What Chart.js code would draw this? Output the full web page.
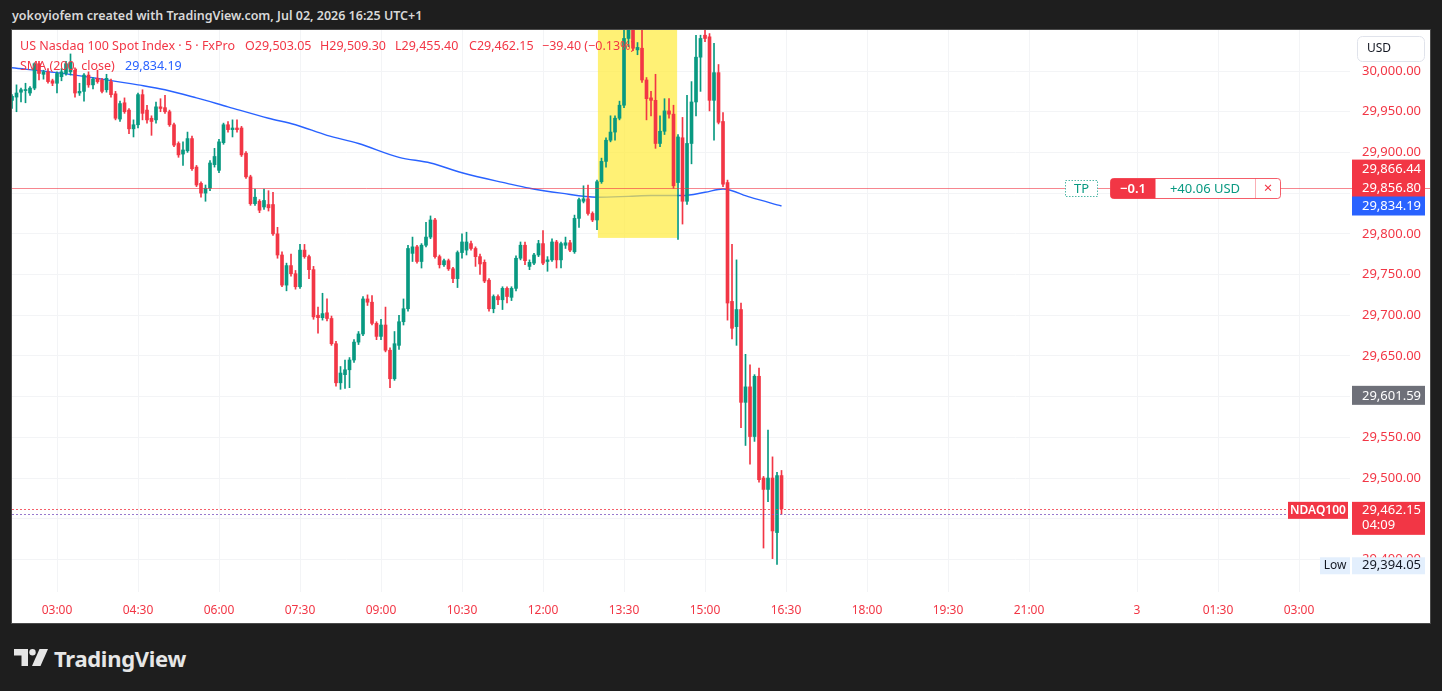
<!DOCTYPE html>
<html>
<head>
<meta charset="utf-8">
<script src="https://cdn.jsdelivr.net/npm/chart.js@4.4.1/dist/chart.umd.min.js"></script>
<style>
html,body{margin:0;padding:0;background:#1e1e1e;width:1442px;height:691px;overflow:hidden;font-family:"Noto Sans",sans-serif;}
#hdr{position:absolute;left:12px;top:6px;color:#d8d8d8;font-size:12.5px;font-weight:600;line-height:20px;white-space:nowrap;}
#panel{position:absolute;left:12px;top:30px;width:1418px;height:593px;background:#fff;box-shadow:0 0 0 1px #4a4a4a;}
#cv{position:absolute;left:0;top:0;}
.lg{position:absolute;font-size:12.5px;line-height:18px;color:#f23645;white-space:nowrap;pointer-events:none;}
#logo{position:absolute;left:14px;top:646px;height:24px;display:flex;align-items:center;}
#logo span{color:#e6e6e6;font-size:22px;font-weight:700;margin-left:6px;letter-spacing:-0.3px;}
</style>
</head>
<body>
<div id="hdr">yokoyiofem created with TradingView.com, Jul 02, 2026 16:25 UTC+1</div>
<div id="panel">
  <canvas id="cv" width="1418" height="593"></canvas>
  <div class="lg" style="left:8px;top:7px;">US Nasdaq 100 Spot Index · 5 · FxPro</div>
  <div class="lg" style="left:233px;top:7px;">O29,503.05</div>
  <div class="lg" style="left:308px;top:7px;">H29,509.30</div>
  <div class="lg" style="left:383px;top:7px;">L29,455.40</div>
  <div class="lg" style="left:457px;top:7px;">C29,462.15</div>
  <div class="lg" style="left:530px;top:7px;">−39.40 (−0.13%)</div>
  <div class="lg" style="left:8px;top:27px;">SMA (200, close)</div>
  <div class="lg" style="left:113px;top:27px;color:#2962ff;">29,834.19</div>
</div>
<div id="logo">
  <svg width="34" height="18" viewBox="0 0 34 18"><path d="M0 0h14v17h-6.5V6.5H0z" fill="#e6e6e6"/><circle cx="18.5" cy="3.2" r="3.2" fill="#e6e6e6"/><path d="M25.5 0h8.5l-7.5 17h-8.5z" fill="#e6e6e6"/></svg>
  <span>TradingView</span>
</div>
<script>
// ---------- DATA ----------
const startIdx = -10; // first candle, in 5-minute bars relative to 03:00
const opens = [
 29964,29968,29974,29976,29973,29979,30009,29996,29999,29988,
 29985,29993,29997,29999,30001,29973,29975,29995,29983,29991,
 29989,29977,29987,29972,29941,29961,29952,29929,29934,29971,
 29952,29942,29940,29956,29955,29950,29934,29911,29898,29902,
 29917,29882,29862,29850,29856,29885,29878,29912,29934,29928,
 29930,29930,29899,29870,29837,29840,29833,29836,29836,29800,
 29774,29737,29761,29751,29735,29780,29772,29756,29700,29697,
 29703,29696,29665,29617,29627,29633,29645,29667,29677,29720,
 29716,29690,29674,29688,29657,29622,29663,29692,29708,29776,
 29784,29766,29786,29796,29817,29772,29762,29767,29757,29745,
 29777,29780,29788,29782,29772,29765,29743,29708,29723,29719,
 29733,29722,29733,29770,29786,29760,29764,29774,29788,29766,
 29768,29790,29768,29786,29789,29778,29819,29840,29843,29825,
 29817,29864,29889,29915,29925,29942,29958,30040,30055,30026,
 30028,29989,29967,29964,29911,29926,29951,29947,29863,29918,
 29840,29911,29962,30017,30044,30042,29964,29998,29938,29863,
 29717,29686,29707,29593,29612,29551,29625,29500,29486,29500,
 29433,29503.05];
const highs = [
 29971,29983,29979,29985,29981,30010,30012,30001,30003,29990,
 29999,30003,30012,30021,30004,29985,29997,29999,29992,30001,
 29991,29996,29990,29975,29963,29967,29954,29940,29973,29977,
 29958,29945,29962,29966,29970,29952,29936,29913,29913,29925,
 29920,29884,29864,29860,29890,29905,29916,29936,29938,29940,
 29940,29932,29901,29872,29855,29842,29855,29853,29851,29808,
 29778,29764,29775,29755,29787,29787,29774,29760,29710,29727,
 29720,29699,29668,29637,29645,29648,29670,29680,29723,29725,
 29724,29692,29695,29710,29660,29680,29700,29720,29786,29796,
 29786,29788,29814,29822,29819,29774,29769,29769,29759,29779,
 29800,29802,29791,29784,29775,29768,29745,29725,29725,29735,
 29735,29735,29773,29790,29790,29768,29776,29792,29804,29772,
 29794,29792,29790,29796,29792,29823,29844,29859,29860,29827,
 29866,29893,29918,29945,29945,29963,30055,30065,30065,30035,
 30050,29992,29975,29996,29945,29966,29966,29958,29922,29943,
 29970,29987,30044,30044,30050,30046,30034,30008,29949,29866,
 29787,29768,29715,29652,29639,29627,29635,29502,29559,29526,
 29507,29509.30];
const lows = [
 29954,29950,29962,29961,29970,29977,29989,29990,29985,29982,
 29973,29988,29995,29995,29968,29970,29963,29980,29978,29985,
 29973,29974,29968,29940,29938,29948,29923,29919,29930,29940,
 29936,29921,29936,29950,29948,29932,29907,29894,29884,29900,
 29878,29858,29845,29840,29853,29882,29875,29910,29925,29919,
 29925,29895,29868,29835,29835,29826,29830,29828,29798,29770,
 29735,29730,29748,29732,29733,29770,29745,29695,29678,29694,
 29693,29663,29613,29609,29610,29611,29642,29664,29675,29712,
 29688,29670,29670,29655,29611,29620,29658,29688,29705,29766,
 29764,29758,29784,29794,29770,29758,29760,29755,29740,29734,
 29770,29774,29780,29760,29750,29740,29705,29703,29713,29707,
 29715,29718,29730,29768,29762,29756,29762,29772,29762,29754,
 29766,29758,29758,29782,29778,29776,29808,29838,29823,29815,
 29805,29862,29882,29913,29915,29940,29955,30030,30025,30020,
 29986,29940,29945,29905,29907,29922,29942,29856,29793,29812,
 29836,29886,29945,29975,30036,29951,29915,29935,29858,29694,
 29671,29663,29562,29540,29517,29545,29495,29414,29471,29401,
 29394,29455.40];
const closes = [
 29969,29973,29977,29977,29979,30009,29997,29999,29987,29985,
 29997,29999,30009,30011,29973,29975,29995,29983,29990,29987,
 29975,29991,29971,29942,29960,29950,29929,29934,29971,29948,
 29940,29938,29956,29954,29950,29934,29909,29897,29903,29917,
 29880,29860,29850,29856,29887,29895,29913,29934,29928,29930,
 29928,29897,29870,29837,29845,29829,29841,29832,29800,29774,
 29737,29761,29751,29735,29780,29772,29756,29698,29697,29702,
 29696,29665,29617,29629,29633,29645,29667,29677,29720,29716,
 29690,29674,29688,29657,29622,29665,29692,29708,29782,29784,
 29766,29786,29796,29817,29772,29762,29767,29757,29745,29777,
 29790,29790,29782,29772,29763,29742,29708,29723,29719,29733,
 29723,29733,29770,29786,29767,29765,29774,29788,29764,29768,
 29790,29768,29788,29789,29780,29819,29842,29843,29825,29817,
 29864,29889,29915,29925,29942,29958,30040,30058,30028,30029,
 29989,29966,29964,29911,29926,29951,29947,29859,29919,29840,
 29911,29962,30017,30040,30040,29964,29998,29937,29861,29715,
 29684,29707,29593,29612,29551,29625,29498,29486,29500,29435,
 29503,29462.15];

const smaIdx = [-10,0,10,18,24,31,38,47,53,60,67,76,83,90,100,105,112,120,127,132,139,144,148,154,161];
const smaVal = [30004,29998,29990,29983,29977,29967,29956,29942,29934,29921,29911,29894,29887,29875,29862,29856,29850,29845,29846,29847,29847,29851,29855,29845,29834.19];

const timeTickIdx = [0,18,36,54,72,90,108,126,144,162,180,198,216,240,258,276];
const timeTickLabels = ['03:00','04:30','06:00','07:30','09:00','10:30','12:00','13:30','15:00','16:30','18:00','19:30','21:00','3','01:30','03:00'];
const priceTicks = [29400,29450,29500,29550,29600,29650,29700,29750,29800,29850,29900,29950,30000];

// highlight rectangle (bar index range / price range)
const hlStart = 120.2, hlEnd = 137.8, hlLow = 29795, hlHigh = 30120;
// price levels
const tpEntry = 29856.80, tpPrice = 29866.44, smaLast = 29834.19, grayLevel = 29601.59;
const lastClose = 29462.15, askLine = 29456, dayLow = 29394.05;

// ---------- CHART ----------
const GREEN = '#089981', RED = '#f23645', BLUE = '#2962ff';
const FONT = '"Noto Sans", sans-serif';
Chart.defaults.font.family = FONT;

const candleColor = opens.map((o,k) => closes[k] >= o ? GREEN : RED);
const bodyData = opens.map((o,k) => ({x: startIdx + k, y: [o, closes[k]]}));
const wickData = opens.map((o,k) => ({x: startIdx + k, y: [lows[k], highs[k]]}));
const smaData = smaIdx.map((x,k) => ({x, y: smaVal[k]}));

const fmt = v => Number(v).toLocaleString('en-US',{minimumFractionDigits:2, maximumFractionDigits:2});

function label(ctx, s, x, y, color, font, align){
  ctx.fillStyle = color; ctx.font = font; ctx.textAlign = align || 'left'; ctx.textBaseline = 'middle';
  ctx.fillText(s, x, y);
}
function noPad(s){ s.paddingTop = 0; s.paddingBottom = 0; s.paddingLeft = 0; s.paddingRight = 0; }

const overlay = {
  id: 'overlay',
  beforeDatasetDraw(chart, args){
    if (args.index !== 1) return;
    const {ctx, chartArea: a, scales: {x, y}} = chart;
    ctx.save();
    ctx.beginPath(); ctx.rect(a.left, a.top, a.right - a.left, a.bottom - a.top); ctx.clip();
    const x0 = x.getPixelForValue(hlStart), x1 = x.getPixelForValue(hlEnd);
    const y0 = y.getPixelForValue(hlHigh), y1 = y.getPixelForValue(hlLow);
    ctx.fillStyle = 'rgba(255,235,59,0.7)';
    ctx.fillRect(x0, y0, x1 - x0, y1 - y0);
    ctx.restore();
  },
  afterDraw(chart){
    const {ctx, chartArea: a, scales: {y}, width: W} = chart;
    const axL = a.right + 2, axW = 73, tx = a.right + 12;
    ctx.save();
    // TP horizontal line
    const yl = Math.round(y.getPixelForValue(tpEntry)) + 0.5;
    ctx.strokeStyle = 'rgba(242,54,69,0.6)'; ctx.lineWidth = 1;
    ctx.beginPath(); ctx.moveTo(0, yl); ctx.lineTo(W, yl); ctx.stroke();
    // dotted last price lines
    const yd1 = Math.round(y.getPixelForValue(lastClose)) + 0.5;
    const yd2 = Math.round(y.getPixelForValue(askLine)) + 0.5;
    ctx.setLineDash([2,2]);
    ctx.strokeStyle = 'rgba(242,54,69,0.8)';
    ctx.beginPath(); ctx.moveTo(a.left, yd1); ctx.lineTo(1276, yd1); ctx.stroke();
    ctx.strokeStyle = 'rgba(126,87,194,0.8)';
    ctx.beginPath(); ctx.moveTo(a.left, yd2); ctx.lineTo(1276, yd2); ctx.stroke();
    ctx.setLineDash([]);
    // TP tag
    ctx.fillStyle = '#fff'; ctx.fillRect(1053, yl - 8.5, 33, 17);
    ctx.setLineDash([1.5,1.5]); ctx.strokeStyle = 'rgba(8,153,129,0.7)';
    ctx.strokeRect(1053.5, yl - 8, 32, 16); ctx.setLineDash([]);
    label(ctx, 'TP', 1069.5, yl + 0.5, GREEN, '13px ' + FONT, 'center');
    // order box
    ctx.beginPath(); ctx.roundRect(1098.5, yl - 10, 170, 20, 3);
    ctx.fillStyle = '#fff'; ctx.fill(); ctx.strokeStyle = 'rgba(242,54,69,0.8)'; ctx.stroke();
    ctx.beginPath(); ctx.roundRect(1098.5, yl - 10, 45, 20, [3,0,0,3]); ctx.fillStyle = RED; ctx.fill();
    label(ctx, '−0.1', 1121, yl + 0.5, '#fff', '600 13px ' + FONT, 'center');
    label(ctx, '+40.06 USD', 1193, yl + 0.5, GREEN, '13px ' + FONT, 'center');
    ctx.strokeStyle = 'rgba(242,54,69,0.4)';
    ctx.beginPath(); ctx.moveTo(1243.5, yl - 10); ctx.lineTo(1243.5, yl + 10); ctx.stroke();
    label(ctx, '×', 1256, yl + 0.5, RED, '15px ' + FONT, 'center');

    // USD box
    ctx.beginPath(); ctx.roundRect(1345.5, 6.5, 67, 25, 5);
    ctx.fillStyle = '#fff'; ctx.fill(); ctx.strokeStyle = '#e0e3eb'; ctx.stroke();
    label(ctx, 'USD', 1355, 19, '#131722', '12px ' + FONT);

    // price axis labels
    const yr = y.getPixelForValue(tpEntry);
    ctx.fillStyle = RED; ctx.fillRect(axL, yr - 28, axW, 40);
    label(ctx, fmt(tpPrice), tx, yr - 18.5, '#fff', '13px ' + FONT);
    label(ctx, fmt(tpEntry), tx, yr + 0.5, '#fff', '13px ' + FONT);
    const yb = y.getPixelForValue(smaLast);
    ctx.fillStyle = BLUE; ctx.fillRect(axL, yb - 9.5, axW, 19);
    label(ctx, fmt(smaLast), tx, yb + 0.5, '#fff', '13px ' + FONT);
    const yg = y.getPixelForValue(grayLevel);
    ctx.fillStyle = '#6e7079'; ctx.fillRect(axL, yg - 9.5, axW, 19);
    label(ctx, fmt(grayLevel), tx, yg + 0.5, '#fff', '13px ' + FONT);
    const yn = y.getPixelForValue(lastClose);
    ctx.fillStyle = RED; ctx.fillRect(1276, yn - 7, 60, 17);
    label(ctx, 'NDAQ100', 1306, yn + 1.5, '#fff', '600 12px ' + FONT, 'center');
    ctx.fillStyle = RED; ctx.fillRect(axL, yn - 7, axW, 33);
    label(ctx, fmt(lastClose), tx, yn + 1.5, '#fff', '13px ' + FONT);
    label(ctx, '04:09', tx, yn + 16, '#fff', '13px ' + FONT);
    const ylw = y.getPixelForValue(dayLow);
    ctx.fillStyle = '#e3effd'; ctx.fillRect(1308, ylw - 7, 30, 17); ctx.fillRect(axL, ylw - 7, axW, 17);
    label(ctx, 'Low', 1323, ylw + 1.5, '#131722', '12px ' + FONT, 'center');
    label(ctx, fmt(dayLow), tx, ylw + 1.5, '#131722', '13px ' + FONT);
    ctx.restore();
  }
};

new Chart(document.getElementById('cv'), {
  type: 'bar',
  data: { datasets: [
    { type: 'line', label: 'SMA', data: smaData, borderColor: BLUE, borderWidth: 1.4, pointRadius: 0,
      tension: 0.4, cubicInterpolationMode: 'monotone', order: 3, clip: 0 },
    { label: 'wick', data: wickData, backgroundColor: candleColor, barThickness: 1, grouped: false,
      borderWidth: 0, order: 2, clip: 0 },
    { label: 'body', data: bodyData, backgroundColor: candleColor, barThickness: 3, grouped: false,
      borderWidth: 0, minBarLength: 1, order: 1, clip: 0 }
  ]},
  options: {
    responsive: false, animation: false, devicePixelRatio: 1,
    layout: { padding: 0 },
    plugins: { legend: { display: false }, tooltip: { enabled: false } },
    scales: {
      x: { type: 'linear', min: -10, max: 287.33, offset: false, position: 'bottom',
        afterBuildTicks: s => { s.ticks = timeTickIdx.map(v => ({value: v})); },
        afterFit: s => { s.height = 31; noPad(s); },
        grid: { color: '#f3f4f6', drawTicks: false, offset: false }, border: { display: false },
        ticks: { callback: v => { const k = timeTickIdx.indexOf(v); return k >= 0 ? timeTickLabels[k] : ''; },
          color: RED, font: { size: 12 }, padding: 11, maxRotation: 0, autoSkip: false } },
      y: { type: 'linear', position: 'right', min: 29360, max: 30050.4,
        afterBuildTicks: s => { s.ticks = priceTicks.map(v => ({value: v})); },
        afterFit: s => { s.width = 80; noPad(s); },
        grid: { color: '#f3f4f6', drawTicks: false }, border: { display: false },
        ticks: { callback: v => fmt(v), color: RED, font: { size: 13 }, padding: 12 } }
    }
  },
  plugins: [overlay]
});
</script>
</body>
</html>
